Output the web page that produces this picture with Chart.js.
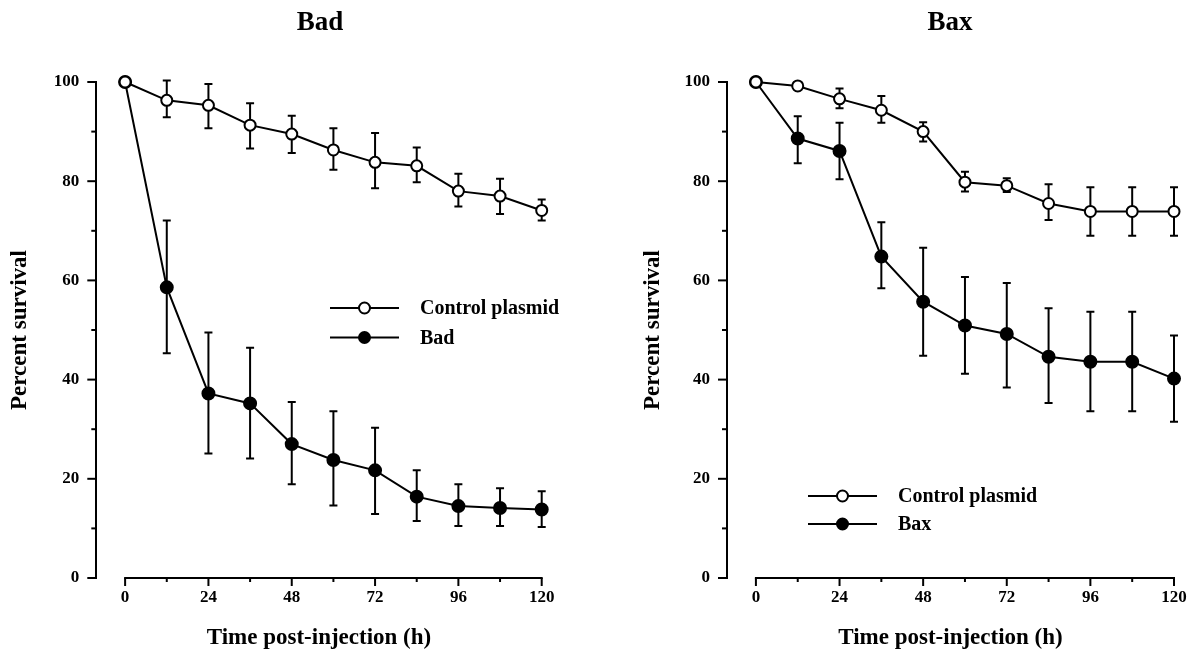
<!DOCTYPE html>
<html>
<head>
<meta charset="utf-8">
<script src="https://cdn.jsdelivr.net/npm/chart.js@4.4.1/dist/chart.umd.min.js"></script>
<style>
  html, body { margin: 0; padding: 0; background: #fff; overflow: hidden; width: 1197px; height: 658px; }
  #left { position: absolute; left: 0; top: 0; }
  #right { position: absolute; left: 630px; top: 0; }
</style>
</head>
<body>
<canvas id="left" width="630" height="658"></canvas>
<canvas id="right" width="567" height="658"></canvas>
<script>
var hours = [0, 12, 24, 36, 48, 60, 72, 84, 96, 108, 120];
var xTicks = [0, 12, 24, 36, 48, 60, 72, 84, 96, 108, 120];
var yTicks = [0, 10, 20, 30, 40, 50, 60, 70, 80, 90, 100];

// Bad panel
var badCtrl   = [100, 96.3, 95.3, 91.3, 89.5, 86.3, 83.8, 83.1, 78.0, 77.0, 74.1];
var badCtrlHi = [100, 100.3, 99.6, 95.7, 93.2, 90.7, 89.7, 86.8, 81.5, 80.5, 76.3];
var badCtrlLo = [100, 92.9, 90.7, 86.6, 85.7, 82.3, 78.6, 79.8, 74.9, 73.4, 72.1];
var badVals   = [100, 58.6, 37.2, 35.2, 27.0, 23.8, 21.7, 16.4, 14.5, 14.1, 13.8];
var badHi     = [100, 72.1, 49.5, 46.4, 35.5, 33.6, 30.3, 21.7, 18.9, 18.1, 17.5];
var badLo     = [100, 45.3, 25.1, 24.1, 18.9, 14.6, 12.9, 11.5, 10.5, 10.5, 10.3];

// Bax panel
var baxCtrl   = [100, 99.2, 96.6, 94.3, 90.0, 79.8, 79.1, 75.5, 73.9, 73.9, 73.9];
var baxCtrlHi = [100, 99.2, 98.7, 97.2, 91.9, 81.9, 80.6, 79.4, 78.8, 78.8, 78.8];
var baxCtrlLo = [100, 99.2, 94.7, 91.8, 88.0, 77.9, 77.8, 72.2, 69.0, 69.0, 69.0];
var baxVals   = [100, 88.6, 86.1, 64.8, 55.7, 50.9, 49.2, 44.6, 43.6, 43.6, 40.2];
var baxHi     = [100, 93.1, 91.8, 71.7, 66.6, 60.7, 59.5, 54.4, 53.7, 53.7, 48.9];
var baxLo     = [100, 83.6, 80.4, 58.4, 44.8, 41.2, 38.4, 35.3, 33.6, 33.6, 31.5];

var FONT = '"Liberation Serif", "Times New Roman", serif';

function pts(vals) {
  return hours.map(function (h, i) { return { x: h, y: vals[i] }; });
}

// vertical error bars, drawn under the markers
var errorBars = {
  id: 'errorBars',
  beforeDatasetsDraw: function (chart) {
    var ctx = chart.ctx, y = chart.scales.y;
    ctx.save();
    ctx.strokeStyle = '#000';
    ctx.lineWidth = 2;
    chart.data.datasets.forEach(function (ds, di) {
      var meta = chart.getDatasetMeta(di);
      ds.errHi.forEach(function (hi, i) {
        var lo = ds.errLo[i];
        if (hi - lo < 0.5) return;
        var px = meta.data[i].x;
        var yh = y.getPixelForValue(hi), yl = y.getPixelForValue(lo);
        ctx.beginPath();
        ctx.moveTo(px, yh); ctx.lineTo(px, yl);
        ctx.moveTo(px - 4, yh); ctx.lineTo(px + 4, yh);
        ctx.moveTo(px - 4, yl); ctx.lineTo(px + 4, yl);
        ctx.stroke();
      });
    });
    ctx.restore();
  }
};

// x baseline (0..120 only) and major/minor tick marks
var axisMarks = {
  id: 'axisMarks',
  afterDraw: function (chart) {
    var ctx = chart.ctx, x = chart.scales.x, y = chart.scales.y, a = chart.chartArea;
    ctx.save();
    ctx.strokeStyle = '#000';
    ctx.lineWidth = 2;
    ctx.beginPath();
    ctx.moveTo(x.getPixelForValue(0) - 1, a.bottom);
    ctx.lineTo(x.getPixelForValue(120) + 1, a.bottom);
    ctx.stroke();
    xTicks.forEach(function (v) {
      var px = x.getPixelForValue(v);
      var len = v % 24 === 0 ? 8 : 4;
      ctx.beginPath();
      ctx.moveTo(px, a.bottom);
      ctx.lineTo(px, a.bottom + len);
      ctx.stroke();
    });
    yTicks.forEach(function (v) {
      var py = y.getPixelForValue(v);
      var len = v % 20 === 0 ? 9 : 5;
      ctx.beginPath();
      ctx.moveTo(a.left, py);
      ctx.lineTo(a.left - len, py);
      ctx.stroke();
    });
    ctx.restore();
  }
};

// panel heading
var panelTitle = {
  id: 'panelTitle',
  afterDraw: function (chart, args, opts) {
    var ctx = chart.ctx;
    ctx.save();
    ctx.font = 'bold 27px ' + FONT;
    ctx.fillStyle = '#000';
    ctx.textAlign = 'center';
    ctx.textBaseline = 'middle';
    ctx.fillText(opts.text, opts.x, opts.y);
    ctx.restore();
  }
};

// legend entries drawn as line + marker + label
var lineLegend = {
  id: 'lineLegend',
  afterDraw: function (chart, args, opts) {
    var ctx = chart.ctx;
    ctx.save();
    ctx.font = 'bold 20px ' + FONT;
    ctx.textBaseline = 'middle';
    chart.data.datasets.forEach(function (ds, i) {
      var yy = opts.rows[i];
      var mx = (opts.x0 + opts.x1) / 2;
      ctx.strokeStyle = '#000';
      ctx.lineWidth = 2;
      ctx.beginPath();
      ctx.moveTo(opts.x0, yy); ctx.lineTo(opts.x1, yy);
      ctx.stroke();
      ctx.beginPath();
      ctx.arc(mx, yy, 5.5, 0, Math.PI * 2);
      ctx.fillStyle = ds.pointBackgroundColor;
      ctx.fill();
      ctx.stroke();
      ctx.fillStyle = '#000';
      ctx.fillText(ds.label, opts.textX, yy + 1);
    });
    ctx.restore();
  }
};

function series(label, vals, hi, lo, filled) {
  return {
    label: label,
    data: pts(vals),
    errHi: hi,
    errLo: lo,
    borderColor: '#000',
    borderWidth: 2,
    tension: 0,
    pointRadius: filled ? 6 : 5.5,
    pointBorderWidth: 2,
    pointBorderColor: '#000',
    pointBackgroundColor: filled ? '#000' : '#fff',
    clip: false
  };
}

function panel(id, title, datasets, geo) {
  return new Chart(document.getElementById(id), {
    type: 'line',
    data: { datasets: datasets },
    options: {
      responsive: false,
      animation: false,
      devicePixelRatio: 1,
      layout: { padding: { left: 0, right: geo.padRight, top: 82, bottom: 0 } },
      plugins: {
        legend: { display: false },
        tooltip: { enabled: false },
        title: { display: false },
        panelTitle: { text: title, x: geo.titleX, y: 23 },
        lineLegend: geo.legend
      },
      scales: {
        x: {
          type: 'linear', min: -8.3, max: 120,
          grid: { display: false, drawTicks: false },
          border: { display: false },
          afterBuildTicks: function (s) { s.ticks = xTicks.map(function (v) { return { value: v }; }); },
          afterFit: function (s) { s.height = 80; },
          ticks: {
            autoSkip: false, maxRotation: 0, padding: 9, color: '#000',
            font: { family: FONT, size: 17, weight: 'bold' },
            callback: function (v) { return v % 24 === 0 ? v : ''; }
          },
          title: {
            display: true, text: 'Time post-injection (h)', color: '#000',
            font: { family: FONT, size: 23, weight: 'bold' },
            padding: { top: 0, bottom: 6 }
          }
        },
        y: {
          min: 0, max: 100,
          grid: { display: false, drawTicks: false },
          border: { display: true, color: '#000', width: 2 },
          afterBuildTicks: function (s) { s.ticks = yTicks.map(function (v) { return { value: v }; }); },
          afterFit: function (s) { s.width = geo.yWidth; },
          ticks: {
            autoSkip: false, padding: 17, color: '#000',
            font: { family: FONT, size: 17, weight: 'bold' },
            callback: function (v) { return v % 20 === 0 ? v : ''; }
          },
          title: {
            display: true, text: 'Percent survival', color: '#000',
            font: { family: FONT, size: 23, weight: 'bold' },
            padding: { top: geo.yTitlePad, bottom: 0 }
          }
        }
      }
    },
    plugins: [errorBars, axisMarks, panelTitle, lineLegend]
  });
}

panel('left', 'Bad', [
  series('Control plasmid', badCtrl, badCtrlHi, badCtrlLo, false),
  series('Bad', badVals, badHi, badLo, true)
], { padRight: 88.3, yWidth: 96.3, yTitlePad: 6, titleX: 320,
     legend: { x0: 330, x1: 399, textX: 420, rows: [308, 337.5] } });

panel('right', 'Bax', [
  series('Control plasmid', baxCtrl, baxCtrlHi, baxCtrlLo, false),
  series('Bax', baxVals, baxHi, baxLo, true)
], { padRight: 23, yWidth: 97, yTitlePad: 9, titleX: 320,
     legend: { x0: 178, x1: 247, textX: 268, rows: [496, 524] } });
</script>
</body>
</html>
